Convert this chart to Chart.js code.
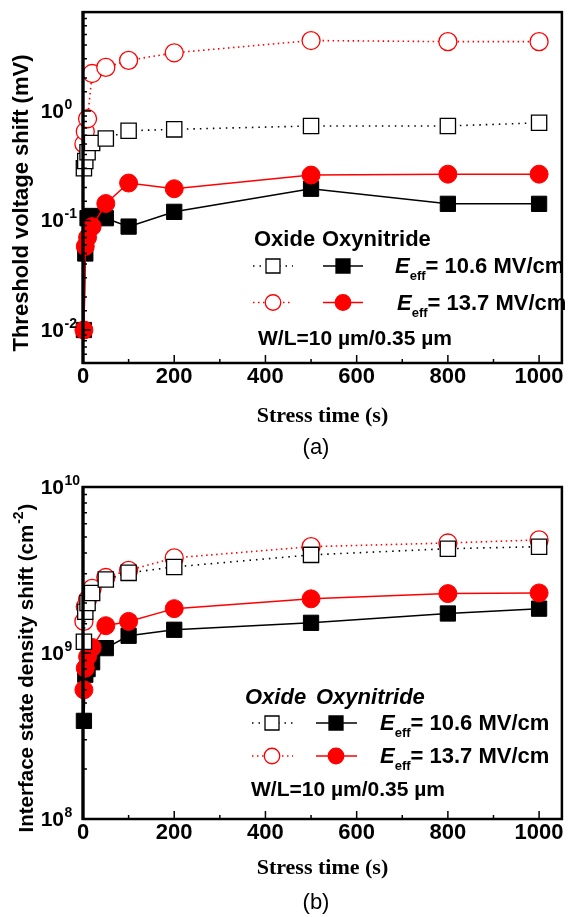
<!DOCTYPE html>
<html>
<head>
<meta charset="utf-8">
<title>Threshold voltage and interface state density shift</title>
<script src="https://cdn.jsdelivr.net/npm/chart.js@4.4.1/dist/chart.umd.min.js"></script>
<style>
    html, body { margin: 0; padding: 0; background: #fff; }
    .panel { position: absolute; left: 0; width: 574px; }
    #panelA { top: 0; height: 460px; }
    #panelB { top: 460px; height: 457px; }
</style>
</head>
<body>
<div class="panel" id="panelA"><canvas id="chartA"></canvas></div>
<div class="panel" id="panelB"><canvas id="chartB"></canvas></div>
<script>
// stress time (s), shared by every series
const stressTimes = [2, 5, 10, 20, 50, 100, 200, 500, 800, 1000];

// (a) threshold voltage shift (mV)
const vthOxide106 = [0.30, 0.35, 0.42, 0.51, 0.56, 0.66, 0.68, 0.73, 0.73, 0.78];
const vthOxide137 = [0.50, 0.65, 0.85, 2.2, 2.5, 2.9, 3.4, 4.4, 4.3, 4.3];
const vthOxyn106 = [0.010, 0.050, 0.105, 0.110, 0.105, 0.088, 0.120, 0.195, 0.142, 0.142];
const vthOxyn137 = [0.010, 0.058, 0.070, 0.088, 0.143, 0.220, 0.195, 0.260, 0.265, 0.265];

// (b) interface state density shift (cm^-2)
const nitOxide106 = [1.17e9, 1.77e9, 2.0e9, 2.3e9, 2.77e9, 3.04e9, 3.3e9, 3.9e9, 4.25e9, 4.37e9];
const nitOxide137 = [1.55e9, 1.9e9, 2.1e9, 2.45e9, 2.85e9, 3.15e9, 3.74e9, 4.37e9, 4.6e9, 4.8e9];
const nitOxyn106 = [0.39e9, 0.74e9, 0.80e9, 0.88e9, 1.07e9, 1.27e9, 1.38e9, 1.52e9, 1.73e9, 1.85e9];
const nitOxyn137 = [0.60e9, 0.81e9, 0.95e9, 1.08e9, 1.46e9, 1.55e9, 1.85e9, 2.12e9, 2.28e9, 2.30e9];

// axis labels
const xTickLabels = [0, 200, 400, 600, 800, 1000];
const yExpA = [-2, -1, 0];
const yExpB = [8, 9, 10];
const fieldLabels = ['10.6', '13.7'];

const SANS = '"Liberation Sans", Arial, sans-serif';
const SERIF = '"Liberation Serif", "Times New Roman", serif';
const RED = '#ff0000';

// marker / line styles
const openSquare = {
    borderColor: '#000', borderDash: [1.5, 5], borderWidth: 1.6,
    pointStyle: 'rect', pointRadius: 10.8, pointBorderWidth: 1.3,
    pointBackgroundColor: '#fff', pointBorderColor: '#000'
};
const openCircle = {
    borderColor: RED, borderDash: [1.5, 3.5], borderWidth: 1.6,
    pointStyle: 'circle', pointRadius: 9, pointBorderWidth: 1.3,
    pointBackgroundColor: '#fff', pointBorderColor: RED
};
const filledSquare = {
    borderColor: '#000', borderWidth: 1.5,
    pointStyle: 'rect', pointRadius: 10.8, pointBorderWidth: 1,
    pointBackgroundColor: '#000', pointBorderColor: '#000'
};
const filledCircle = {
    borderColor: RED, borderWidth: 1.5,
    pointStyle: 'circle', pointRadius: 9, pointBorderWidth: 1,
    pointBackgroundColor: RED, pointBorderColor: RED
};

function series(values, style) {
    return Object.assign({
        data: values.map((v, i) => ({ x: stressTimes[i], y: v })),
        clip: false,
        tension: 0
    }, style);
}

function drawMarker(ctx, shape, x, y, size, filled, color) {
    ctx.save();
    ctx.setLineDash([]);
    ctx.lineWidth = 1.3;
    ctx.strokeStyle = color;
    ctx.fillStyle = filled ? color : '#fff';
    ctx.beginPath();
    if (shape === 'rect') ctx.rect(x - size / 2, y - size / 2, size, size);
    else ctx.arc(x, y, size / 2, 0, Math.PI * 2);
    ctx.fill();
    ctx.stroke();
    ctx.restore();
}

function drawSampleLine(ctx, x1, x2, y, color, dash) {
    ctx.save();
    ctx.strokeStyle = color;
    ctx.lineWidth = 1.6;
    ctx.setLineDash(dash);
    ctx.beginPath();
    ctx.moveTo(x1, y);
    ctx.lineTo(x2, y);
    ctx.stroke();
    ctx.restore();
}

function drawEeff(ctx, x, base, value) {
    ctx.textAlign = 'left';
    ctx.textBaseline = 'alphabetic';
    ctx.font = 'italic bold 22px ' + SANS;
    ctx.fillText('E', x, base);
    x += ctx.measureText('E').width;
    ctx.font = 'bold 13px ' + SANS;
    ctx.fillText('eff', x, base + 7);
    x += ctx.measureText('eff').width;
    ctx.font = 'bold 22px ' + SANS;
    ctx.fillText('= ' + value + ' MV/cm', x, base);
}

// frame, inward ticks, y labels, legend and captions
function decor(L) {
    return {
        id: 'decor',
        afterDraw(chart) {
            const { ctx, chartArea: a } = chart;
            const xs = chart.scales.x, ys = chart.scales.y;
            ctx.save();
            ctx.strokeStyle = '#000';
            ctx.fillStyle = '#000';

            // ticks
            ctx.lineWidth = 1.5;
            ctx.beginPath();
            xs.ticks.forEach(t => {
                if (t.value % 100 !== 0) return;
                const px = xs.getPixelForValue(t.value);
                const len = t.value % 200 === 0 ? 8 : 4;
                ctx.moveTo(px, a.bottom);
                ctx.lineTo(px, a.bottom - len);
            });
            ys.ticks.forEach(t => {
                const lg = Math.log10(t.value);
                const major = Math.abs(lg - Math.round(lg)) < 1e-6;
                const py = ys.getPixelForValue(t.value);
                ctx.moveTo(a.left, py);
                ctx.lineTo(a.left + (major ? 8 : 4), py);
            });
            ctx.stroke();

            // frame
            ctx.lineWidth = 2.5;
            ctx.strokeRect(a.left, a.top, a.right - a.left, a.bottom - a.top);
            ctx.lineWidth = 3.2;
            ctx.beginPath();
            ctx.moveTo(a.left, a.top - 1);
            ctx.lineTo(a.left, a.bottom + 1);
            ctx.stroke();

            // y tick labels 10^n
            L.yExp.forEach(e => {
                const py = ys.getPixelForValue(Math.pow(10, e));
                ctx.textBaseline = 'middle';
                ctx.font = 'bold 21px ' + SANS;
                ctx.textAlign = 'right';
                ctx.fillText('10', 64, py + 1);
                ctx.font = 'bold 14px ' + SANS;
                ctx.textAlign = 'left';
                ctx.fillText(String(e), 64.5, py - 6);
            });

            // y axis title
            const T = L.yTitle;
            const big = 'bold ' + T.size + 'px ' + SANS;
            const small = 'bold 14px ' + SANS;
            ctx.save();
            ctx.translate(T.x, T.y);
            ctx.rotate(-Math.PI / 2);
            ctx.textBaseline = 'middle';
            ctx.font = big;
            const mainW = ctx.measureText(T.text).width;
            ctx.font = small;
            const supW = T.sup ? ctx.measureText(T.sup).width + 2 : 0;
            ctx.font = big;
            const tailW = T.tail ? ctx.measureText(T.tail).width : 0;
            let tx = -(mainW + supW + tailW) / 2;
            ctx.textAlign = 'left';
            ctx.fillText(T.text, tx, 0);
            tx += mainW;
            if (T.sup) {
                ctx.font = small;
                ctx.fillText(T.sup, tx + 1, -8);
                tx += supW;
                ctx.font = big;
                ctx.fillText(T.tail, tx, 0);
            }
            ctx.restore();

            // legend header
            const lg = L.legend;
            ctx.textAlign = 'left';
            ctx.textBaseline = 'alphabetic';
            ctx.font = (lg.italic ? 'italic ' : '') + 'bold 22px ' + SANS;
            ctx.fillText('Oxide', lg.oxideX, lg.headBase);
            ctx.fillText('Oxynitride', lg.oxynX, lg.headBase);

            // legend rows
            const rows = [
                { c: lg.row1, color: '#000', shape: 'rect', dash: [1.5, 5], size: 14 },
                { c: lg.row2, color: RED, shape: 'circle', dash: [1.5, 3.5], size: 15.5 }
            ];
            rows.forEach((r, i) => {
                drawSampleLine(ctx, lg.openLine[0], lg.openLine[1], r.c, r.color, r.dash);
                drawMarker(ctx, r.shape, lg.openX, r.c, r.size, false, r.color);
                drawSampleLine(ctx, lg.fillLine[0], lg.fillLine[1], r.c, r.color, []);
                drawMarker(ctx, r.shape, lg.fillX, r.c, r.size, true, r.color);
                ctx.fillStyle = '#000';
                drawEeff(ctx, lg.textX[i], r.c + 7, fieldLabels[i]);
            });

            ctx.font = 'bold 21px ' + SANS;
            ctx.fillText('W/L=10 \u00b5m/0.35 \u00b5m', lg.wlX, lg.wlBase);

            // panel caption
            ctx.textAlign = 'center';
            ctx.textBaseline = 'middle';
            ctx.font = '22px ' + SANS;
            ctx.fillText(L.caption, 316, L.captionY);
            ctx.restore();
        }
    };
}

function buildChart(id, cfg) {
    return new Chart(document.getElementById(id), {
        type: 'line',
        data: { datasets: cfg.datasets },
        options: {
            responsive: true,
            maintainAspectRatio: false,
            animation: false,
            events: [],
            layout: { padding: cfg.padding },
            plugins: { legend: { display: false }, tooltip: { enabled: false } },
            scales: {
                x: {
                    type: 'linear', min: 0, max: 1050,
                    grid: { display: false, drawTicks: false },
                    border: { display: false },
                    ticks: {
                        stepSize: 100, includeBounds: false, autoSkip: false, maxRotation: 0,
                        padding: 1, color: '#000',
                        font: { family: SANS, weight: 'bold', size: 22 },
                        callback: v => xTickLabels.includes(v) ? v : ''
                    },
                    title: {
                        display: true, text: 'Stress time (s)', color: '#000',
                        font: { family: SERIF, weight: 'bold', size: 22 },
                        padding: { top: 4, bottom: 4 }
                    },
                    afterFit: s => { s.height = cfg.xAxisHeight; }
                },
                y: {
                    type: 'logarithmic', min: cfg.yMin, max: cfg.yMax,
                    grid: { display: false, drawTicks: false },
                    border: { display: false },
                    ticks: { autoSkip: false, callback: () => '' },
                    afterFit: s => { s.width = 83; }
                }
            }
        },
        plugins: [decor(cfg.layout)]
    });
}

window.addEventListener('DOMContentLoaded', () => {
    buildChart('chartA', {
        datasets: [
            series(vthOxide106, openSquare),
            series(vthOxide137, openCircle),
            series(vthOxyn137, filledCircle),
            series(vthOxyn106, filledSquare)
        ],
        yMin: 0.005, yMax: 8,
        padding: { top: 10, right: 2, left: 0, bottom: 26 },
        xAxisHeight: 71,
        layout: {
            yExp: yExpA,
            yTitle: { x: 22, y: 203, size: 22, text: 'Threshold voltage shift (mV)' },
            legend: {
                italic: false, oxideX: 254, oxynX: 322, headBase: 246,
                row1: 266, row2: 302.5,
                openX: 273, openLine: [253, 293],
                fillX: 343, fillLine: [323, 363],
                textX: [395, 397],
                wlX: 258, wlBase: 345
            },
            caption: '(a)', captionY: 448
        }
    });

    buildChart('chartB', {
        datasets: [
            series(nitOxide106, openSquare),
            series(nitOxide137, openCircle),
            series(nitOxyn137, filledCircle),
            series(nitOxyn106, filledSquare)
        ],
        yMin: 1e8, yMax: 1e10,
        padding: { top: 27, right: 9, left: 0, bottom: 31 },
        xAxisHeight: 67,
        layout: {
            yExp: yExpB,
            yTitle: { x: 27, y: 208, size: 20.5, text: 'Interface state density shift (cm', sup: '-2', tail: ')' },
            legend: {
                italic: true, oxideX: 245, oxynX: 316, headBase: 244,
                row1: 263, row2: 296,
                openX: 272, openLine: [252, 293],
                fillX: 336, fillLine: [316, 357],
                textX: [380, 380],
                wlX: 251, wlBase: 336
            },
            caption: '(b)', captionY: 443
        }
    });
});
</script>
</body>
</html>
